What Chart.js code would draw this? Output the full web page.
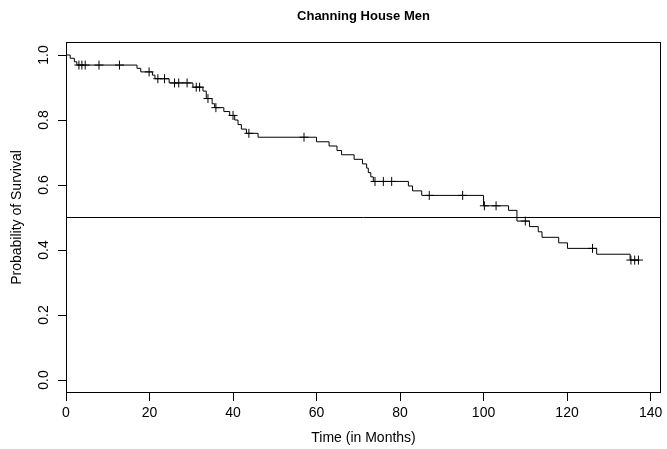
<!DOCTYPE html>
<html>
<head>
<meta charset="utf-8">
<script src="https://cdn.jsdelivr.net/npm/chart.js@4"></script>
<style>
  html, body { margin: 0; padding: 0; background: #fff; }
</style>
</head>
<body>
<canvas id="km" width="667" height="449"></canvas>
<script>
// Kaplan-Meier estimate: step times (months) and survival after each step
const stepTimes = [0, 1.0, 2.0, 2.6, 17.0, 17.9, 20.7, 21.3, 24.7, 30.4, 32.8, 33.6, 35.0, 35.6, 37.8, 39.2,
    40.4, 41.2, 42.0, 43.2, 46.0, 60.0, 63.0, 64.9, 66.0, 69.0, 71.0, 72.0, 72.4, 73.0, 73.6, 82.0, 83.0,
    85.2, 100.0, 106.0, 108.0, 111.0, 113.1, 114.0, 118.0, 120.1, 127.1, 135.1, 137.1];
const stepSurv = [1.000, 0.990, 0.979, 0.969, 0.959, 0.948, 0.938, 0.927, 0.914, 0.901, 0.889, 0.866, 0.850,
    0.838, 0.826, 0.814, 0.800, 0.786, 0.772, 0.759, 0.747, 0.733, 0.720, 0.706, 0.693, 0.679, 0.665, 0.652,
    0.638, 0.625, 0.611, 0.597, 0.582, 0.568, 0.536, 0.522, 0.489, 0.472, 0.456, 0.439, 0.422, 0.405, 0.387,
    0.369, 0.369];

// censored observations (+ marks)
const censorTimes = [3.1, 3.8, 4.6, 7.9, 12.8, 19.9, 22.0, 23.6, 26.0, 27.0, 29.0, 31.2, 32.0, 34.0, 35.9,
    40.0, 43.8, 57.0, 74.0, 76.0, 78.0, 87.0, 95.0, 100.2, 103.0, 110.0, 126.1, 135.3, 136.2, 137.1];
const censorSurv = [0.969, 0.969, 0.969, 0.969, 0.969, 0.948, 0.927, 0.927, 0.914, 0.914, 0.914, 0.901, 0.901,
    0.866, 0.838, 0.814, 0.759, 0.747, 0.611, 0.611, 0.611, 0.568, 0.568, 0.536, 0.536, 0.489, 0.405, 0.369,
    0.369, 0.369];

// reference line at 50% survival
const medianLevel = 0.5;

// axis ticks
const xTicks = [0, 20, 40, 60, 80, 100, 120, 140];
const yTicks = [0, 0.2, 0.4, 0.6, 0.8, 1.0];
const xRange = [0, 142.5];
const yRange = [-0.04, 1.04];

const FONT = 'Liberation Sans, Arial, Helvetica, sans-serif';

// R style box around the plot region
const boxPlugin = {
    id: 'box',
    afterDraw(chart) {
        const { ctx, chartArea: a } = chart;
        const l = Math.round(a.left) + 0.5, t = Math.round(a.top) + 0.5;
        const r = Math.round(a.right) - 0.5, b = Math.round(a.bottom) - 0.5;
        ctx.save();
        ctx.strokeStyle = '#000';
        ctx.lineWidth = 1;
        ctx.strokeRect(l, t, r - l, b - t);
        ctx.restore();
    }
};

new Chart(document.getElementById('km'), {
    type: 'scatter',
    data: {
        datasets: [
            {
                data: stepTimes.map((t, i) => ({ x: t, y: stepSurv[i] })),
                showLine: true,
                stepped: true,
                borderColor: '#000',
                borderWidth: 1,
                pointRadius: 0
            },
            {
                data: censorTimes.map((t, i) => ({ x: t, y: censorSurv[i] })),
                showLine: false,
                pointStyle: 'cross',
                pointRadius: 4.5,
                borderColor: '#000',
                borderWidth: 1
            },
            {
                data: xRange.map(x => ({ x: x, y: medianLevel })),
                showLine: true,
                borderColor: '#000',
                borderWidth: 1,
                pointRadius: 0
            }
        ]
    },
    options: {
        responsive: false,
        animation: false,
        devicePixelRatio: 1,
        layout: { padding: { left: 0, right: 6, top: 0, bottom: 0 } },
        plugins: {
            legend: { display: false },
            tooltip: { enabled: false },
            title: { display: false }
        },
        scales: {
            // top axis only carries the main title so it is centred over the plot region, as in R
            top: {
                type: 'linear',
                position: 'top',
                min: xRange[0],
                max: xRange[1],
                afterFit: s => { s.height = 42; },
                ticks: { display: false },
                grid: { display: false },
                border: { display: false },
                title: {
                    display: true,
                    text: 'Channing House Men',
                    color: '#000',
                    font: { family: FONT, size: 13, weight: 'bold' },
                    padding: { top: 9, bottom: 0 }
                }
            },
            x: {
                type: 'linear',
                position: 'bottom',
                min: xRange[0],
                max: xRange[1],
                afterBuildTicks: s => { s.ticks = xTicks.map(v => ({ value: v })); },
                afterFit: s => { s.height = 56; },
                ticks: {
                    color: '#000',
                    font: { family: FONT, size: 14 },
                    padding: 4,
                    maxRotation: 0,
                    autoSkip: false
                },
                grid: { drawOnChartArea: false, drawTicks: true, tickLength: 8, color: '#000' },
                border: { display: false },
                title: {
                    display: true,
                    text: 'Time (in Months)',
                    color: '#000',
                    font: { family: FONT, size: 14 },
                    padding: { top: 0, bottom: 2 }
                }
            },
            y: {
                type: 'linear',
                min: yRange[0],
                max: yRange[1],
                afterBuildTicks: s => { s.ticks = yTicks.map(v => ({ value: v })); },
                afterFit: s => { s.width = 66; },
                ticks: {
                    color: '#000',
                    font: { family: FONT, size: 14 },
                    callback: v => v.toFixed(1),
                    minRotation: 90,
                    maxRotation: 90,
                    crossAlign: 'center',
                    padding: 4,
                    autoSkip: false
                },
                grid: { drawOnChartArea: false, drawTicks: true, tickLength: 8, color: '#000' },
                border: { display: false },
                title: {
                    display: true,
                    text: 'Probability of Survival',
                    color: '#000',
                    font: { family: FONT, size: 14 },
                    padding: { top: 9, bottom: 0 }
                }
            }
        }
    },
    plugins: [boxPlugin]
});
</script>
</body>
</html>
